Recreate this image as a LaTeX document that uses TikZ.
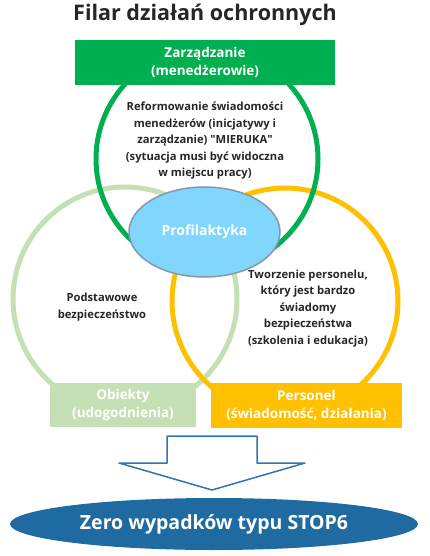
\documentclass[tikz,border=0pt]{standalone}
\usepackage{fontspec}
\setmainfont{Open Sans}
\usetikzlibrary{shapes.geometric}
\definecolor{zielony}{HTML}{00B050}
\definecolor{jasnozielony}{HTML}{C5E0B4}
\definecolor{pomarancz}{HTML}{FFC000}
\definecolor{blekit}{HTML}{80D6FD}
\definecolor{obwodka}{HTML}{8497B0}
\definecolor{granat}{HTML}{1F6AA0}
\definecolor{strzalka}{HTML}{2E75B6}
\definecolor{tekst}{HTML}{262626}
\tikzset{
  naglowek/.style={fill=#1, text=white, inner sep=0pt, align=center,
    font=\fontsize{13.5}{18}\selectfont\bfseries},
  opis/.style={align=center, text=tekst, font=\fontsize{11.2}{16.5}\selectfont\bfseries},
  kolo/.style={draw=#1, line width=5pt},
}
\begin{document}
\begin{tikzpicture}[x=1pt, y=-1pt, line join=round]
\useasboundingbox (0,0) rectangle (429,556);
\node[text=tekst, font=\fontsize{21.5}{24}\selectfont\bfseries] (tytul) at (205,15) {Filar działań ochronnych};
% trzy filary
\draw[kolo=jasnozielony] (125,299) circle[radius=112pt];
\draw[kolo=pomarancz] (285,301) circle[radius=113pt];
\draw[kolo=zielony] (207,159) circle[radius=111pt];
\node[naglowek=zielony, minimum width=260pt, minimum height=45pt] (zarzadzanie) at (205,62.5) {Zarządzanie\\(menedżerowie)};
\node[naglowek=jasnozielony, minimum width=146pt, minimum height=44pt] (obiekty) at (123,405) {Obiekty\\(udogodnienia)};
\node[naglowek=pomarancz, minimum width=191pt, minimum height=45pt] (personel) at (306.5,405.5) {Personel\\(świadomość, działania)};
\node[opis] (reform) at (205,141) {Reformowanie świadomości\\menedżerów (inicjatywy i\\zarządzanie) \textquotedbl MIERUKA\textquotedbl\\(sytuacja musi być widoczna\\w miejscu pracy)};
\node[opis] (podstawy) at (102,307) {Podstawowe\\bezpieczeństwo};
\node[opis] (tworzenie) at (308,308.5) {Tworzenie personelu,\\który jest bardzo\\świadomy\\bezpieczeństwa\\(szkolenia i edukacja)};
\node[ellipse, draw=obwodka, line width=1.5pt, fill=blekit, minimum width=151pt, minimum height=90pt,
  text=white, font=\fontsize{14}{18}\selectfont\bfseries] (profilaktyka) at (204.5,232) {Profilaktyka};
% strzalka w dol
\coordinate (grot) at (212,490);
\draw[strzalka, line width=1.5pt] (grot) -- ++(-93,-27) -- ++(48,0) -- ++(0,-27) -- ++(90,0)
  -- ++(0,27) -- ++(48,0) -- cycle;
\node[ellipse, fill=granat, minimum width=408pt, minimum height=52pt, inner sep=0pt,
  text=white, font=\fontsize{19.5}{24}\selectfont\bfseries] (zero) at (214,524) {Zero wypadków typu STOP6};
\end{tikzpicture}
\end{document}
